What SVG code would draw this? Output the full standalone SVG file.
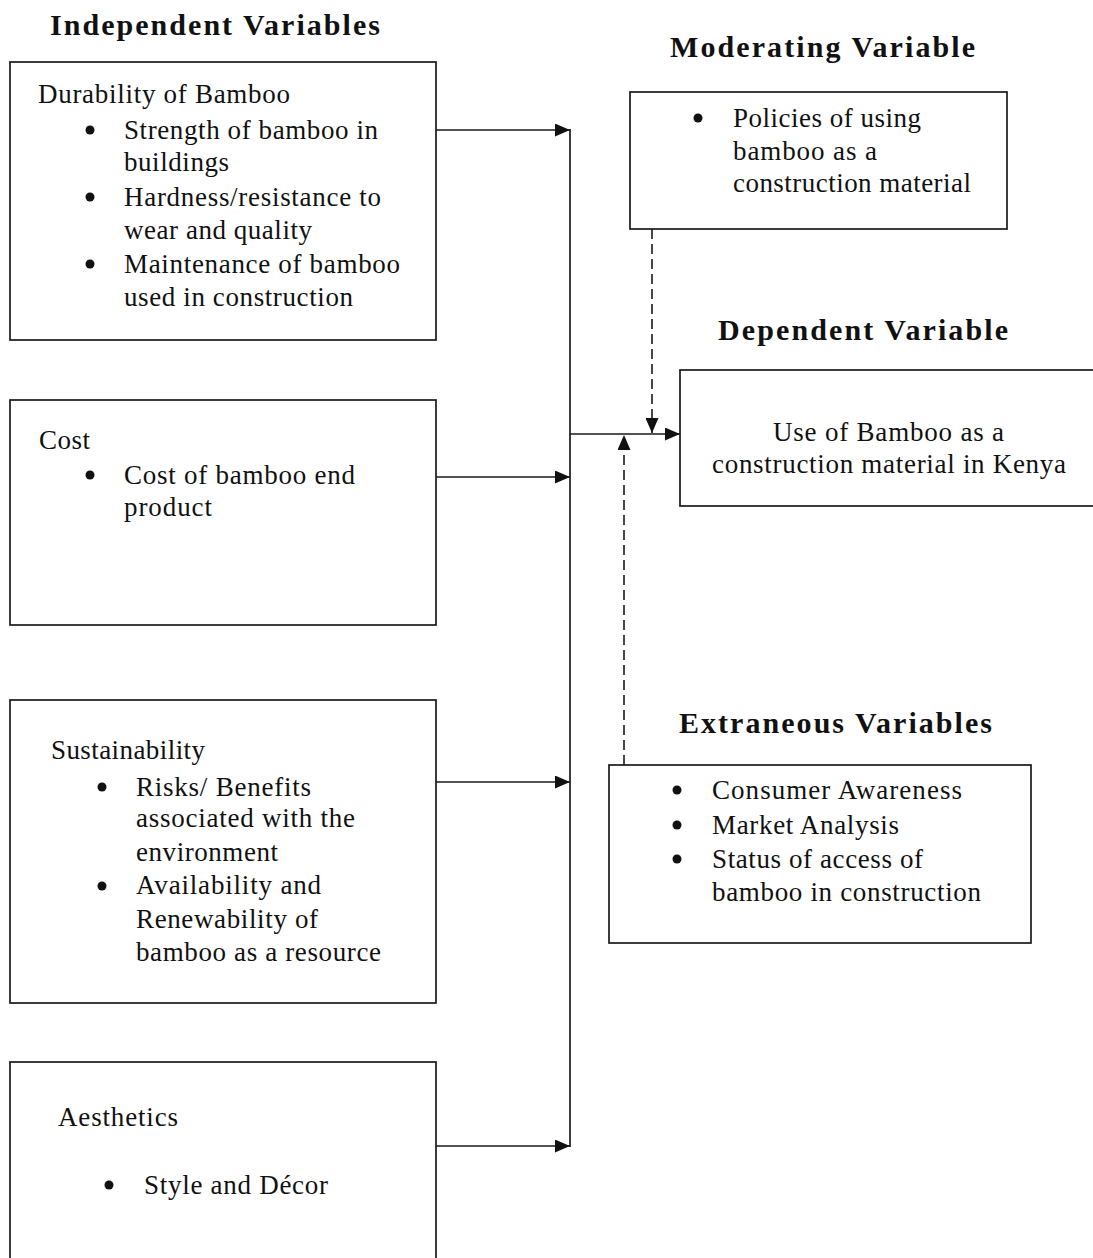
<svg xmlns="http://www.w3.org/2000/svg" width="1093" height="1258" viewBox="0 0 1093 1258">
  <style>
    text { font-family: "Liberation Serif", "Times New Roman", serif; fill: #111; }
    .t { font-size: 27px; }
    .h { font-size: 30px; font-weight: bold; }
    .box { fill: #fff; stroke: #1a1a1a; stroke-width: 1.7; }
    .dot { fill: #111; }
    .ln { fill: none; stroke: #1a1a1a; stroke-width: 1.7; }
    .dash { fill: none; stroke: #1a1a1a; stroke-width: 1.6; stroke-dasharray: 10 5; }
  </style>
  <defs>
    <marker id="ah" viewBox="0 0 15 13" refX="15" refY="6.5" markerWidth="15" markerHeight="13" markerUnits="userSpaceOnUse" orient="auto">
      <path d="M0,0 L15,6.5 L0,13 Z" fill="#111"/>
    </marker>
  </defs>
  <rect width="1093" height="1258" fill="#fff"/>

  <g id="headings">
    <text class="h" x="50" y="35" textLength="330" lengthAdjust="spacing">Independent Variables</text>
    <text class="h" x="670" y="57" textLength="305" lengthAdjust="spacing">Moderating Variable</text>
    <text class="h" x="718" y="340" textLength="290" lengthAdjust="spacing">Dependent Variable</text>
    <text class="h" x="679" y="733" textLength="313" lengthAdjust="spacing">Extraneous Variables</text>
  </g>

  <g id="durability">
    <rect class="box" x="10" y="62" width="426" height="278"/>
    <text class="t" x="38" y="103" textLength="252" lengthAdjust="spacing">Durability of Bamboo</text>
    <circle class="dot" cx="90" cy="130" r="4.5"/>
    <text class="t" x="124" y="139" textLength="254" lengthAdjust="spacing">Strength of bamboo in</text>
    <text class="t" x="124" y="171" textLength="105" lengthAdjust="spacing">buildings</text>
    <circle class="dot" cx="90" cy="197" r="4.5"/>
    <text class="t" x="124" y="206" textLength="257" lengthAdjust="spacing">Hardness/resistance to</text>
    <text class="t" x="124" y="239" textLength="188" lengthAdjust="spacing">wear and quality</text>
    <circle class="dot" cx="90" cy="264" r="4.5"/>
    <text class="t" x="124" y="273" textLength="276" lengthAdjust="spacing">Maintenance of bamboo</text>
    <text class="t" x="124" y="306" textLength="229" lengthAdjust="spacing">used in construction</text>
  </g>

  <g id="cost">
    <rect class="box" x="10" y="400" width="426" height="225"/>
    <text class="t" x="39" y="449" textLength="51" lengthAdjust="spacing">Cost</text>
    <circle class="dot" cx="90" cy="475" r="4.5"/>
    <text class="t" x="124" y="484" textLength="231" lengthAdjust="spacing">Cost of bamboo end</text>
    <text class="t" x="124" y="516" textLength="88" lengthAdjust="spacing">product</text>
  </g>

  <g id="sustainability">
    <rect class="box" x="10" y="700" width="426" height="303"/>
    <text class="t" x="51" y="759" textLength="154" lengthAdjust="spacing">Sustainability</text>
    <circle class="dot" cx="102" cy="787" r="4.5"/>
    <text class="t" x="136" y="796" textLength="175" lengthAdjust="spacing">Risks/ Benefits</text>
    <text class="t" x="136" y="827" textLength="219" lengthAdjust="spacing">associated with the</text>
    <text class="t" x="136" y="861" textLength="142" lengthAdjust="spacing">environment</text>
    <circle class="dot" cx="102" cy="886" r="4.5"/>
    <text class="t" x="136" y="894" textLength="185" lengthAdjust="spacing">Availability and</text>
    <text class="t" x="136" y="928" textLength="182" lengthAdjust="spacing">Renewability of</text>
    <text class="t" x="136" y="961" textLength="245" lengthAdjust="spacing">bamboo as a resource</text>
  </g>

  <g id="aesthetics">
    <rect class="box" x="10" y="1062" width="426" height="220"/>
    <text class="t" x="58" y="1126" textLength="120" lengthAdjust="spacing">Aesthetics</text>
    <circle class="dot" cx="109" cy="1185" r="4.5"/>
    <text class="t" x="144" y="1194" textLength="184" lengthAdjust="spacing">Style and Décor</text>
  </g>

  <g id="moderating">
    <rect class="box" x="630" y="92" width="377" height="137"/>
    <circle class="dot" cx="698" cy="118" r="4.5"/>
    <text class="t" x="733" y="127" textLength="188" lengthAdjust="spacing">Policies of using</text>
    <text class="t" x="733" y="160" textLength="144" lengthAdjust="spacing">bamboo as a</text>
    <text class="t" x="733" y="192" textLength="238" lengthAdjust="spacing">construction material</text>
  </g>

  <g id="dependent">
    <rect class="box" x="680" y="370" width="430" height="136"/>
    <text class="t" x="773" y="441" textLength="231" lengthAdjust="spacing">Use of Bamboo as a</text>
    <text class="t" x="712" y="473" textLength="354" lengthAdjust="spacing">construction material in Kenya</text>
  </g>

  <g id="extraneous">
    <rect class="box" x="609" y="765" width="422" height="178"/>
    <circle class="dot" cx="677" cy="790" r="4.5"/>
    <text class="t" x="712" y="799" textLength="250" lengthAdjust="spacing">Consumer Awareness</text>
    <circle class="dot" cx="677" cy="825" r="4.5"/>
    <text class="t" x="712" y="834" textLength="187" lengthAdjust="spacing">Market Analysis</text>
    <circle class="dot" cx="677" cy="859" r="4.5"/>
    <text class="t" x="712" y="868" textLength="211" lengthAdjust="spacing">Status of access of</text>
    <text class="t" x="712" y="901" textLength="269" lengthAdjust="spacing">bamboo in construction</text>
  </g>

  <g id="connectors">
    <line class="ln" x1="570" y1="129" x2="570" y2="1147"/>
    <line class="ln" x1="436" y1="130" x2="570" y2="130" marker-end="url(#ah)"/>
    <line class="ln" x1="436" y1="477" x2="570" y2="477" marker-end="url(#ah)"/>
    <line class="ln" x1="436" y1="782" x2="570" y2="782" marker-end="url(#ah)"/>
    <line class="ln" x1="436" y1="1146" x2="570" y2="1146" marker-end="url(#ah)"/>
    <line class="ln" x1="570" y1="434" x2="680" y2="434" marker-end="url(#ah)"/>
    <line class="dash" x1="652" y1="229" x2="652" y2="433" marker-end="url(#ah)"/>
    <line class="dash" x1="624" y1="765" x2="624" y2="435" marker-end="url(#ah)"/>
  </g>
</svg>
